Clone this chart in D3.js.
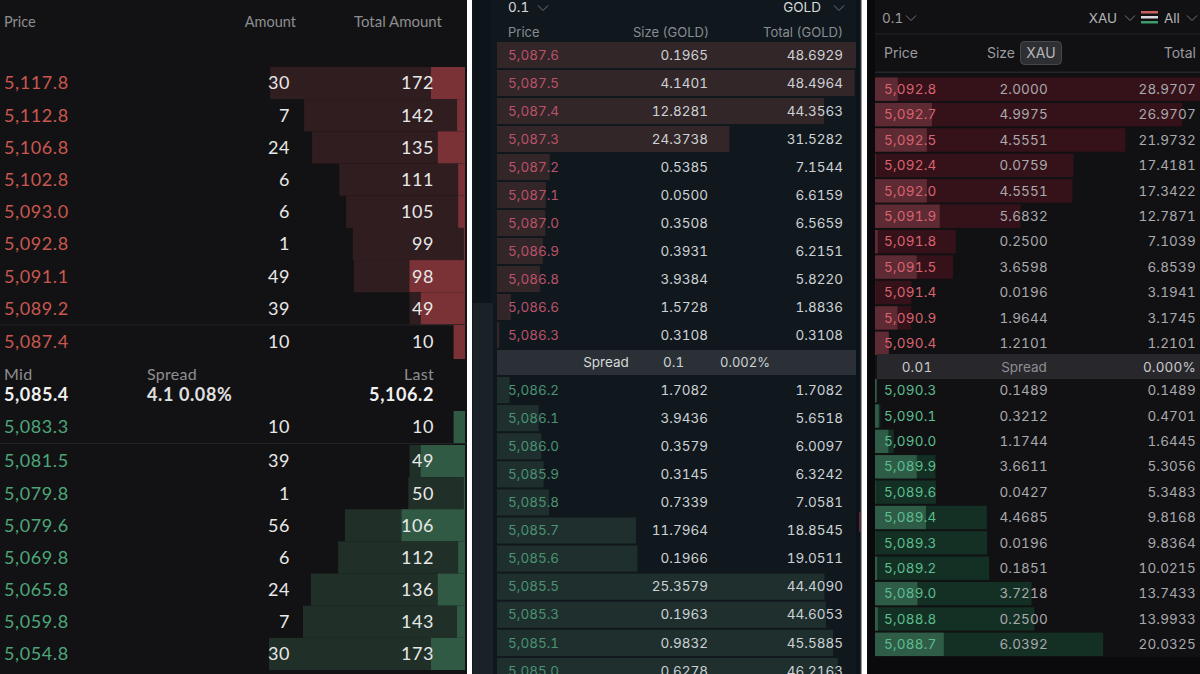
<!DOCTYPE html>
<html>
<head>
<meta charset="utf-8">
<script src="https://cdn.jsdelivr.net/npm/d3@7/dist/d3.min.js"></script>
<style>
html,body{margin:0;padding:0;background:#fff;overflow:hidden}
svg{display:block}
text{font-variant-numeric:tabular-nums}
</style>
</head>
<body>
<div class="canvas"></div>
<script>
/* left book */
var bookAAskPrices = [5117.8,5112.8,5106.8,5102.8,5093.0,5092.8,5091.1,5089.2,5087.4];
var bookAAskAmounts = [30,7,24,6,6,1,49,39,10];
var bookAAskTotals = [172,142,135,111,105,99,98,49,10];
var bookABidPrices = [5083.3,5081.5,5079.8,5079.6,5069.8,5065.8,5059.8,5054.8];
var bookABidAmounts = [10,39,1,56,6,24,7,30];
var bookABidTotals = [10,49,50,106,112,136,143,173];

/* middle book */
var bookBAskPrices = [5087.6,5087.5,5087.4,5087.3,5087.2,5087.1,5087.0,5086.9,5086.8,5086.6,5086.3];
var bookBAskSizes = [0.1965,4.1401,12.8281,24.3738,0.5385,0.05,0.3508,0.3931,3.9384,1.5728,0.3108];
var bookBAskTotals = [48.6929,48.4964,44.3563,31.5282,7.1544,6.6159,6.5659,6.2151,5.822,1.8836,0.3108];
var bookBBidPrices = [5086.2,5086.1,5086.0,5085.9,5085.8,5085.7,5085.6,5085.5,5085.3,5085.1,5085.0];
var bookBBidSizes = [1.7082,3.9436,0.3579,0.3145,0.7339,11.7964,0.1966,25.3579,0.1963,0.9832,0.6278];
var bookBBidTotals = [1.7082,5.6518,6.0097,6.3242,7.0581,18.8545,19.0511,44.409,44.6053,45.5885,46.2163];

/* right book */
var bookCAskPrices = [5092.8,5092.7,5092.5,5092.4,5092.0,5091.9,5091.8,5091.5,5091.4,5090.9,5090.4];
var bookCAskSizes = [2.0,4.9975,4.5551,0.0759,4.5551,5.6832,0.25,3.6598,0.0196,1.9644,1.2101];
var bookCAskTotals = [28.9707,26.9707,21.9732,17.4181,17.3422,12.7871,7.1039,6.8539,3.1941,3.1745,1.2101];
var bookCBidPrices = [5090.3,5090.1,5090.0,5089.9,5089.6,5089.4,5089.3,5089.2,5089.0,5088.8,5088.7];
var bookCBidSizes = [0.1489,0.3212,1.1744,3.6611,0.0427,4.4685,0.0196,0.1851,3.7218,0.25,6.0392];
var bookCBidTotals = [0.1489,0.4701,1.6445,5.3056,5.3483,9.8168,9.8364,10.0215,13.7433,13.9933,20.0325];

var fmtPrice = d3.format(",.1f"), fmtSize = d3.format(".4f"), fmtInt = d3.format("d");

var svg = d3.select('.canvas').append('svg').attr('width',1200).attr('height',674);

function rect(g,x,y,w,h,fill) {
    return g.append('rect').attr('x',x).attr('y',y).attr('width',w).attr('height',h).attr('fill',fill);
}
function label(g,x,y,txt,o) {
    return g.append('text').attr('x',x).attr('y',y).attr('dy','0.35em')
        .attr('text-anchor',o.anchor||'start').attr('fill',o.fill)
        .attr('font-family',o.font).attr('font-size',o.size)
        .attr('font-weight',o.weight||400).attr('letter-spacing',o.ls||0)
        .text(txt);
}
function chevron(g,x,y,color) {
    var line = d3.line();
    g.append('path').attr('d',line([[x-5,y-2.5],[x,y+2.5],[x+5,y-2.5]]))
        .attr('fill','none').attr('stroke',color).attr('stroke-width',1);
}

/* one side of a book: depth bars, optional size bars, three text columns */
function drawSide(parent,cfg,prices,sizes,totals) {
    var g = parent.append('g');
    var idx = d3.range(prices.length);
    var y = d3.scaleBand().domain(idx).range(cfg.yRange).paddingInner(cfg.gap);
    var rows = g.selectAll('g.row').data(idx).enter().append('g').attr('class','row');

    rows.append('rect')
        .attr('x',function(i){return d3.min([cfg.x(0),cfg.x(totals[i])]);})
        .attr('y',function(i){return y(i);})
        .attr('width',function(i){return Math.abs(cfg.x(totals[i])-cfg.x(0));})
        .attr('height',y.bandwidth())
        .attr('fill',cfg.depthColor);

    if (cfg.sizeColor) {
        rows.append('rect')
            .attr('x',function(i){return d3.min([cfg.x(0),cfg.x(sizes[i])]);})
            .attr('y',function(i){return y(i);})
            .attr('width',function(i){return Math.abs(cfg.x(sizes[i])-cfg.x(0));})
            .attr('height',y.bandwidth())
            .attr('fill',cfg.sizeColor);
    }

    idx.forEach(function(i){
        var cy = y(i)+y.bandwidth()/2;
        var row = g.append('g');
        label(row,cfg.priceX,cy,fmtPrice(prices[i]),{fill:cfg.priceColor,font:cfg.font,size:cfg.fontSize,ls:cfg.ls});
        label(row,cfg.sizeX,cy,cfg.fmtQty(sizes[i]),{anchor:'end',fill:cfg.textColor,font:cfg.font,size:cfg.fontSize,ls:cfg.ls});
        label(row,cfg.totalX,cy,cfg.fmtQty(totals[i]),{anchor:'end',fill:cfg.textColor,font:cfg.font,size:cfg.fontSize,ls:cfg.ls});
    });
}

/* ---- left panel ---- */
var a = svg.append('g');
var fontA = 'Lato, sans-serif';
rect(a,0,0,467,674,'#121214');
var xA = d3.scaleLinear().domain([0,173]).range([465,269]);
var baseA = {x:xA,gap:0,font:fontA,fontSize:18,ls:0.6,priceX:4,sizeX:290,totalX:434,fmtQty:fmtInt,textColor:'#e8e8e8'};

label(a,4,22,'Price',{fill:'#8e8e90',font:fontA,size:14.5});
label(a,296,22,'Amount',{anchor:'end',fill:'#8e8e90',font:fontA,size:14.5});
label(a,442,22,'Total Amount',{anchor:'end',fill:'#8e8e90',font:fontA,size:15});

drawSide(a,Object.assign({},baseA,{yRange:[67,324.5],depthColor:'#2f1d20',sizeColor:'#7a3236',priceColor:'#c9574f'}),
    bookAAskPrices.slice(0,8),bookAAskAmounts.slice(0,8),bookAAskTotals.slice(0,8));
rect(a,0,324.5,467,1,'#222325');
drawSide(a,Object.assign({},baseA,{yRange:[325,359],depthColor:'#2f1d20',sizeColor:'#7a3236',priceColor:'#c9574f'}),
    bookAAskPrices.slice(8),bookAAskAmounts.slice(8),bookAAskTotals.slice(8));

label(a,4,374,'Mid',{fill:'#8e8e90',font:fontA,size:16,ls:0.3});
label(a,4,395,fmtPrice(5085.4),{fill:'#f0f0f0',font:fontA,size:18,ls:0.6,weight:700});
label(a,147,374,'Spread',{fill:'#8e8e90',font:fontA,size:16,ls:0.3});
label(a,147,395,'4.1 0.08%',{fill:'#e0e0e0',font:fontA,size:18,ls:0.6,weight:700});
label(a,434,374,'Last',{anchor:'end',fill:'#8e8e90',font:fontA,size:16,ls:0.3});
label(a,434,395,fmtPrice(5106.2),{anchor:'end',fill:'#f0f0f0',font:fontA,size:18,ls:0.6,weight:700});

drawSide(a,Object.assign({},baseA,{yRange:[411,443],depthColor:'#203029',sizeColor:'#315a45',priceColor:'#4da67a'}),
    bookABidPrices.slice(0,1),bookABidAmounts.slice(0,1),bookABidTotals.slice(0,1));
rect(a,0,443,467,1,'#222325');
drawSide(a,Object.assign({},baseA,{yRange:[445,670],depthColor:'#203029',sizeColor:'#315a45',priceColor:'#4da67a'}),
    bookABidPrices.slice(1),bookABidAmounts.slice(1),bookABidTotals.slice(1));

/* ---- middle panel ---- */
var b = svg.append('g');
var fontB = 'Inter, sans-serif';
rect(b,472,0,389,674,'#10181e');
rect(b,473,0,18,303,'#0d151b');
rect(b,473,303,20,371,'#1a2127');
rect(b,856,0,4,674,'#0c1318');
rect(b,860,0,1.5,674,'#2a2e33');
var xB = d3.scaleLinear().domain([0,48.6929]).range([497,856]);
var baseB = {x:xB,gap:0.07,font:fontB,fontSize:13.5,ls:0,priceX:508,sizeX:708,totalX:843,fmtQty:fmtSize,textColor:'#cdd1d4'};

label(b,508,7,'0.1',{fill:'#d5d8da',font:fontB,size:13.5});
chevron(b,543,8,'#6d7479');
label(b,821,7,'GOLD',{anchor:'end',fill:'#d5d8da',font:fontB,size:13.5});
chevron(b,839,8,'#6d7479');
label(b,508,32,'Price',{fill:'#868d92',font:fontB,size:13});
label(b,709,32,'Size (GOLD)',{anchor:'end',fill:'#868d92',font:fontB,size:13});
label(b,843,32,'Total (GOLD)',{anchor:'end',fill:'#868d92',font:fontB,size:13});

drawSide(b,Object.assign({},baseB,{yRange:[42,348],depthColor:'#322629',priceColor:'#b9526a'}),
    bookBAskPrices,bookBAskSizes,bookBAskTotals);
rect(b,497,350,359,25,'#2b3036');
label(b,606,362.5,'Spread',{anchor:'middle',fill:'#d5d8da',font:fontB,size:13.5});
label(b,663,362.5,'0.1',{fill:'#cdd1d4',font:fontB,size:13.5});
label(b,720,362.5,'0.002%',{fill:'#cdd1d4',font:fontB,size:13});
drawSide(b,Object.assign({},baseB,{yRange:[377,684],depthColor:'#1e2f2e',priceColor:'#4a9273'}),
    bookBBidPrices,bookBBidSizes,bookBBidTotals);
rect(b,859,512,2,20,'#5a2a38');

/* ---- right panel ---- */
var c = svg.append('g');
var fontC = 'Inter, sans-serif';
rect(c,867,0,333,674,'#0a0a0c');
rect(c,875,0,325,657,'#111114');
var xC = d3.scaleLinear().domain([0,28.9707]).range([875,1205]);
var baseC = {x:xC,gap:0.08,font:fontC,fontSize:13.5,ls:0.2,priceX:884,sizeX:1048,totalX:1196,fmtQty:fmtSize,textColor:'#a9a9ac'};

label(c,882,18,'0.1',{fill:'#9a9a9e',font:fontC,size:13.5});
chevron(c,911,18,'#77777b');
label(c,1117,18,'XAU',{anchor:'end',fill:'#b5b5b8',font:fontC,size:13.5});
chevron(c,1130,18,'#77777b');
rect(c,1141,11,17,2.5,'#c8605c');
rect(c,1141,16,17,2.5,'#d9d9d9');
rect(c,1141,21,17,2.5,'#3f9a6c');
label(c,1164,18,'All',{fill:'#b5b5b8',font:fontC,size:13.5});
chevron(c,1192,18,'#77777b');
rect(c,875,33.5,325,1,'#25252a');
label(c,884,53,'Price',{fill:'#9a9a9e',font:fontC,size:14});
label(c,1015,53,'Size',{anchor:'end',fill:'#9a9a9e',font:fontC,size:14});
rect(c,1020.5,41.5,41,23,'#2e2f33').attr('rx',4).attr('stroke','#47484d');
label(c,1041,53,'XAU',{anchor:'middle',fill:'#b5b5b8',font:fontC,size:14});
label(c,1196,53,'Total',{anchor:'end',fill:'#9a9a9e',font:fontC,size:14});
rect(c,875,71.5,325,1.5,'#25252a');

drawSide(c,Object.assign({},baseC,{yRange:[77.5,355],depthColor:'#35121a',sizeColor:'#5e2a33',priceColor:'#d9636e'}),
    bookCAskPrices,bookCAskSizes,bookCAskTotals);
rect(c,877,354,323,25,'#28282c');
label(c,917,367,'0.01',{anchor:'middle',fill:'#c8c8ca',font:fontC,size:13.5,ls:0.2});
label(c,1024,367,'Spread',{anchor:'middle',fill:'#8e8e92',font:fontC,size:13.5});
label(c,1196,367,'0.000%',{anchor:'end',fill:'#c8c8ca',font:fontC,size:13.5,ls:0.2});
drawSide(c,Object.assign({},baseC,{yRange:[379,656],depthColor:'#143024',sizeColor:'#2f5c47',priceColor:'#5bbd8c'}),
    bookCBidPrices,bookCBidSizes,bookCBidTotals);
</script>
</body>
</html>
